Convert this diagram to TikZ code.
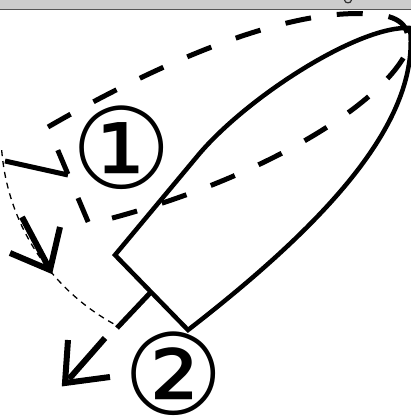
\documentclass[tikz,border=0pt]{standalone}
\usepackage{fontspec}
\newfontfamily\dejavu{DejaVu Sans}
\definecolor{barfill}{HTML}{CCCCCC}
\definecolor{barline}{HTML}{555555}
\tikzset{
  solidshape/.style={line width=4.5pt, line join=miter},
  dashshape/.style={line width=5pt, dash pattern=on 26pt off 26pt, line join=miter},
  thindash/.style={line width=1.3pt, dash pattern=on 6pt off 5pt},
  stem/.style={line width=5pt},
  bigarrow/.style={line width=6pt, line join=miter, line cap=butt},
  circlenum/.style={font=\dejavu\fontsize{112}{112}\selectfont, inner sep=0pt}
}
\begin{document}
\begin{tikzpicture}[x=1pt,y=-1pt]
\useasboundingbox (0,0) rectangle (411,417);
% top bar
\fill[barfill] (0,0) rectangle (411,9);
\draw[barline, line width=1.5pt] (0,9.5) -- (411,9.5);
\draw[black!80, line width=1.2pt] (344.5,0) .. controls (345,3.8) and (351,3.8) .. (351.5,0);
% dashed rocket (position 1)
\draw[dashshape] (48,127) .. controls (150,68) and (290,3) .. (380,15)
  .. controls (405,18) and (413,32) .. (405,55)
  .. controls (375,110) and (250,185) .. (89,224) -- cycle;
% solid rocket (position 2)
\draw[solidshape] (115,255) -- (200,153) .. controls (250,95) and (360,25) .. (410,28)
  .. controls (420,120) and (330,220) .. (188,330) -- cycle;
% stems
\draw[stem] (68,175) -- (5,161);
\draw[stem] (151,292) -- (117,328);
% rotation arc
\draw[thindash] plot[domain=175.5:117.6, samples=60, smooth] ({219+218*cos(\x)},{133+218*sin(\x)});
% arrows
\draw[bigarrow] (22,217) -- (48,266);
\draw[bigarrow] (10,253) -- (50,270) -- (60,227);
\draw[bigarrow] (105,338) -- (69,379);
\draw[bigarrow] (68,340) -- (65,383) -- (110,377);
% labels
\node[circlenum] (n1) at (122,148) {①};
\node[circlenum] (n2) at (174,374) {②};
\end{tikzpicture}
\end{document}
